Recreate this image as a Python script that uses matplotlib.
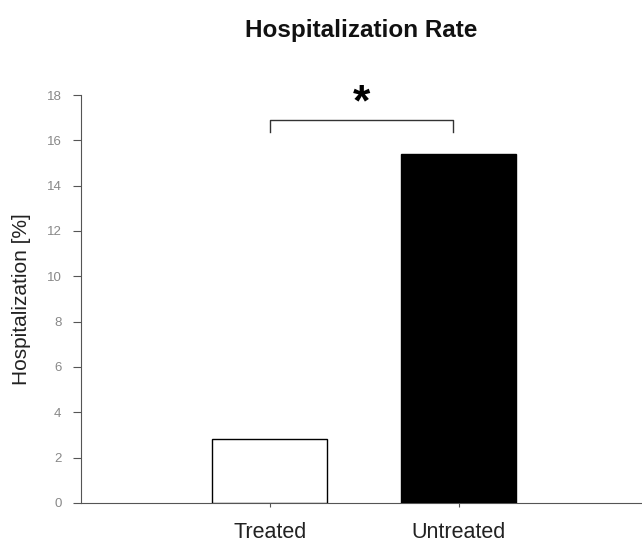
import matplotlib
matplotlib.use("Agg")
import matplotlib.pyplot as plt

categories = ["Treated", "Untreated"]
values = [2.8, 15.4]
colors = ["white", "black"]
yticks = [0, 2, 4, 6, 8, 10, 12, 14, 16, 18]
bracket_y = 16.9
bracket_drop = 0.55

plt.rcParams['font.family'] = ['Liberation Sans', 'DejaVu Sans']

fig = plt.figure(figsize=(6.42, 5.46), dpi=100)
ax = fig.add_axes([0.126, 0.079, 0.874, 0.747])
x = list(range(len(categories)))
ax.bar(x, values, width=0.61, color=colors, edgecolor="black", linewidth=1.0, zorder=3)
ax.set_xlim(-1.0, 1.97)
ax.set_ylim(0, 18)
ax.set_yticks(yticks)
ax.set_yticklabels([str(t) for t in yticks], fontsize=9.5, color="#888888")
ax.set_xticks(x)
ax.set_xticklabels(categories, fontsize=15.5, color="#222222")
ax.tick_params(axis="y", direction="out", length=6, width=0.8, color="#555555", pad=8)
ax.tick_params(axis="x", direction="out", length=3, width=0.8, color="#555555", pad=11)
for s in ["top", "right"]:
    ax.spines[s].set_visible(False)
ax.spines["left"].set_color("#555555")
ax.spines["bottom"].set_color("#555555")
ax.spines["left"].set_linewidth(0.8)
ax.spines["bottom"].set_linewidth(0.8)
ax.set_ylabel("Hospitalization [%]", fontsize=15, color="#222222", labelpad=11)

# significance bracket
x0, x1 = x[0], x[1] - 0.03
ax.plot([x0, x0, x1, x1], [bracket_y - bracket_drop, bracket_y, bracket_y, bracket_y - bracket_drop],
        color="#333333", linewidth=1.0, clip_on=False)
ax.text((x0 + x1) / 2, bracket_y - 0.2, "*", ha="center", va="bottom", fontsize=32,
        fontweight="bold", clip_on=False)

fig.text(0.563, 0.945, "Hospitalization Rate", ha="center", va="center", fontsize=17.5,
         fontweight="bold", color="#111111")

fig.savefig("out.png", dpi=100)
